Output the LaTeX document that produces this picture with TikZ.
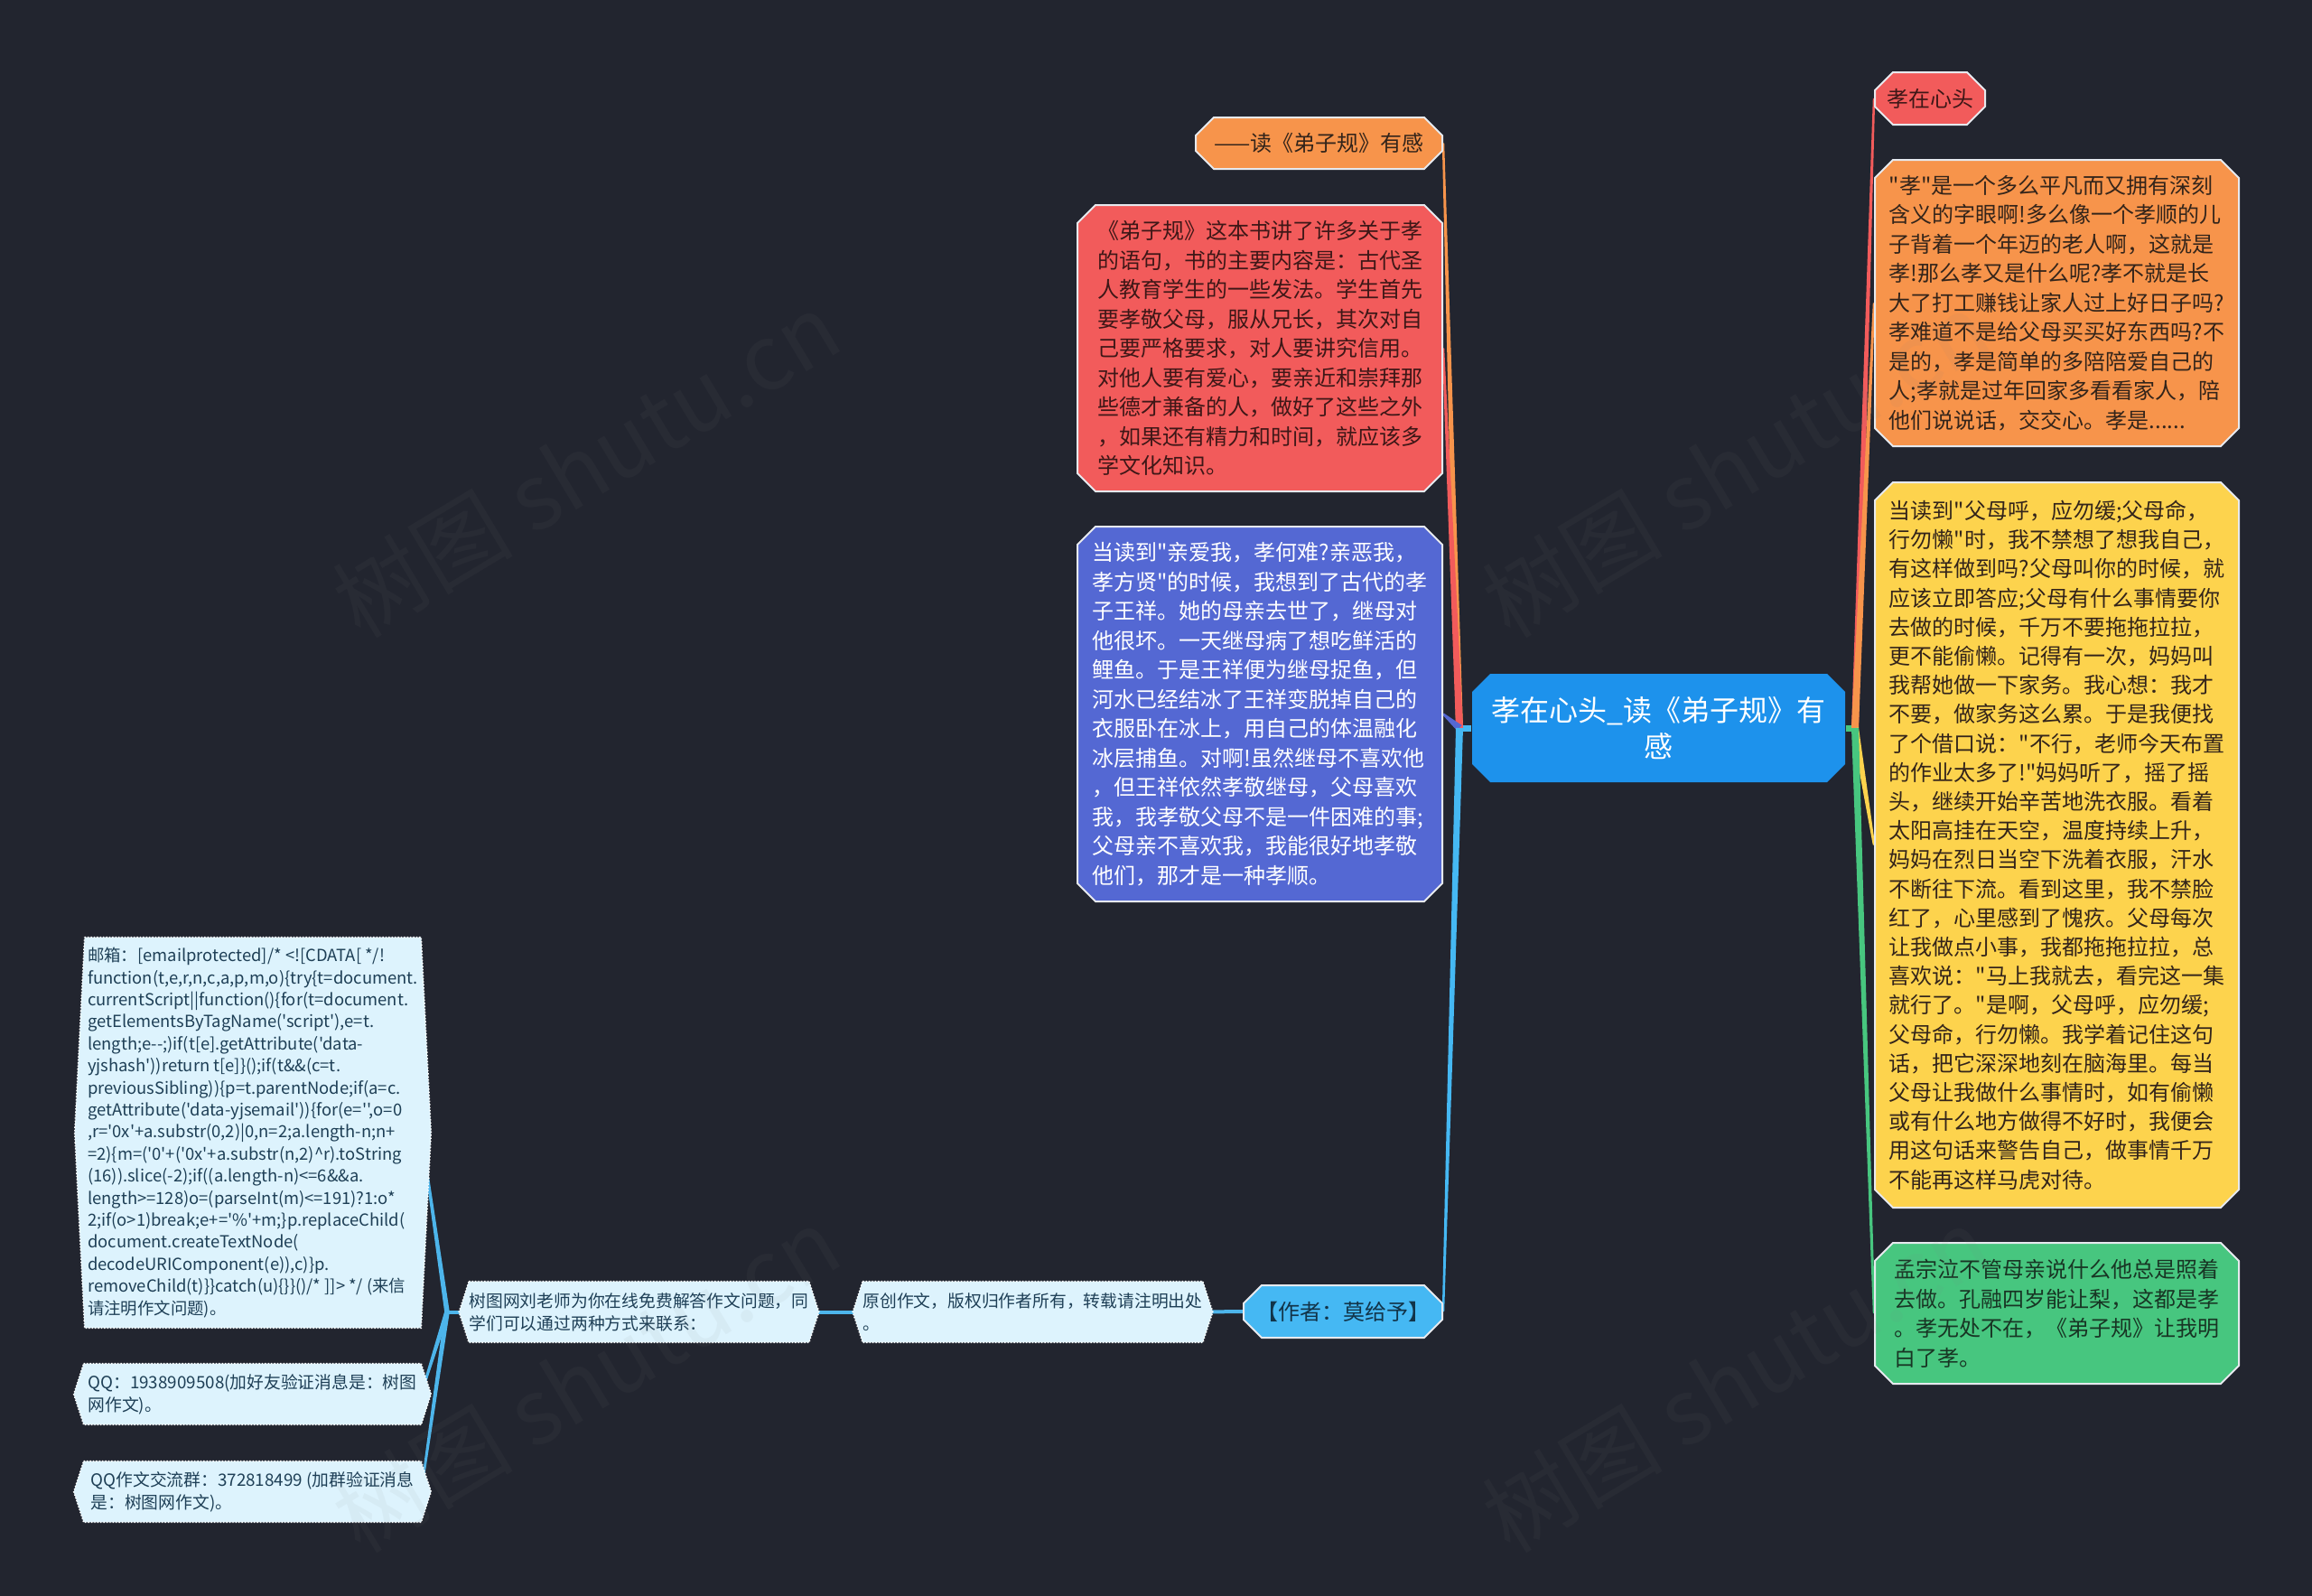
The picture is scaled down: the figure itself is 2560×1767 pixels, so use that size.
\documentclass[tikz,border=0pt]{standalone}
\usepackage{fontspec}
\setmainfont{Noto Sans CJK SC}[Ligatures=TeXOff]
\usetikzlibrary{shapes.misc,calc,backgrounds}
\definecolor{bgc}{HTML}{22252F}
\definecolor{cmain}{HTML}{1D92EC}
\definecolor{corange}{HTML}{F7944B}
\definecolor{cred}{HTML}{F25B5B}
\definecolor{cpurple}{HTML}{5468D3}
\definecolor{clblue}{HTML}{45B8F3}
\definecolor{cyellow}{HTML}{FDD34D}
\definecolor{cgreen}{HTML}{47C67F}
\definecolor{lfill}{HTML}{DDF3FD}
\definecolor{ltext}{HTML}{1E3F56}
\definecolor{tdark}{HTML}{33241A}
\definecolor{tred}{HTML}{3E1717}
\definecolor{tgreen}{HTML}{183524}
\definecolor{tblue}{HTML}{123449}
\definecolor{lline}{HTML}{4DB5EB}
\definecolor{bord}{HTML}{E6E9EE}
\tikzset{
  cbox/.style={chamfered rectangle, chamfered rectangle xsep=5pt, chamfered rectangle ysep=5pt,
    draw=bord, line width=1pt, inner sep=0pt, align=left,
    font=\fontsize{12pt}{16.25pt}\selectfont},
  lbox/.style={rectangle, inner sep=0pt, align=left, text=ltext,
    font=\fontsize{9.4pt}{12.5pt}\selectfont},
  wmark/.style={rotate=31, text=gray, opacity=0.065, font=\fontsize{50pt}{50pt}\selectfont},
}
\newcommand\tconn[4][2pt]{\fill[#2] ($(#3)!#1!90:(#4)$) -- ($(#4)!0.6pt!-90:(#3)$) -- ($(#4)!0.6pt!90:(#3)$) -- ($(#3)!#1!-90:(#4)$) -- cycle;}
\newcommand\lshape[1]{\path[fill=lfill, draw=white, densely dotted, line width=0.7pt] (#1.north west) -- (#1.north east) -- ($(#1.east)+(11,0)$) -- (#1.south east) -- (#1.south west) -- ($(#1.west)+(-11,0)$) -- cycle;}
\begin{document}
\begin{tikzpicture}[x=0.5pt,y=-0.5pt]
\useasboundingbox (0,0) rectangle (2560,1767);

% central
\node[cbox, draw=none, fill=cmain, text=white, align=center, minimum width=206.5pt, minimum height=60pt,
  font=\fontsize{16pt}{20pt}\selectfont] (center) at (1836.5,806) {孝在心头\_读《弟子规》有\\感};

% left
\node[cbox, fill=corange, text=tdark, minimum width=136.5pt, minimum height=28.5pt] (sub1) at (1460.5,158.5) {——读《弟子规》有感};
\node[cbox, fill=cred, text=tred, minimum width=202pt, minimum height=158.5pt] (red) at (1395,385.5) {《弟子规》这本书讲了许多关于孝\\的语句，书的主要内容是：古代圣\\人教育学生的一些发法。学生首先\\要孝敬父母，服从兄长，其次对自\\己要严格要求，对人要讲究信用。\\对他人要有爱心，要亲近和崇拜那\\些德才兼备的人，做好了这些之外\\，如果还有精力和时间，就应该多\\学文化知识。};
\node[cbox, fill=cpurple, text=white, minimum width=202pt, minimum height=207.5pt] (purple) at (1395,790.5) {当读到"亲爱我，孝何难?亲恶我，\\孝方贤"的时候，我想到了古代的孝\\子王祥。她的母亲去世了，继母对\\他很坏。一天继母病了想吃鲜活的\\鲤鱼。于是王祥便为继母捉鱼，但\\河水已经结冰了王祥变脱掉自己的\\衣服卧在冰上，用自己的体温融化\\冰层捕鱼。对啊!虽然继母不喜欢他\\，但王祥依然孝敬继母，父母喜欢\\我，我孝敬父母不是一件困难的事;\\父母亲不喜欢我，我能很好地孝敬\\他们，那才是一种孝顺。};
\node[cbox, fill=clblue, text=tblue, align=center, minimum width=110pt, minimum height=29pt] (author) at (1487,1452) {【作者：莫给予】};

% right
\node[cbox, fill=cred, text=tred, minimum width=61pt, minimum height=29pt] (r0) at (2137,109) {孝在心头};
\node[cbox, fill=corange, text=tdark, minimum width=201.5pt, minimum height=158.5pt] (orange) at (2277.5,335.5) {"孝"是一个多么平凡而又拥有深刻\\含义的字眼啊!多么像一个孝顺的儿\\子背着一个年迈的老人啊，这就是\\孝!那么孝又是什么呢?孝不就是长\\大了打工赚钱让家人过上好日子吗?\\孝难道不是给父母买买好东西吗?不\\是的，孝是简单的多陪陪爱自己的\\人;孝就是过年回家多看看家人，陪\\他们说说话，交交心。孝是......};
\node[cbox, fill=cyellow, text=tdark, minimum width=201.5pt, minimum height=401.5pt,
  font=\fontsize{12pt}{16.1pt}\selectfont] (yellow) at (2277.5,935.5) {当读到"父母呼，应勿缓;父母命，\\行勿懒"时，我不禁想了想我自己，\\有这样做到吗?父母叫你的时候，就\\应该立即答应;父母有什么事情要你\\去做的时候，千万不要拖拖拉拉，\\更不能偷懒。记得有一次，妈妈叫\\我帮她做一下家务。我心想：我才\\不要，做家务这么累。于是我便找\\了个借口说："不行，老师今天布置\\的作业太多了!"妈妈听了，摇了摇\\头，继续开始辛苦地洗衣服。看着\\太阳高挂在天空，温度持续上升，\\妈妈在烈日当空下洗着衣服，汗水\\不断往下流。看到这里，我不禁脸\\红了，心里感到了愧疚。父母每次\\让我做点小事，我都拖拖拉拉，总\\喜欢说："马上我就去，看完这一集\\就行了。"是啊，父母呼，应勿缓;\\父母命，行勿懒。我学着记住这句\\话，把它深深地刻在脑海里。每当\\父母让我做什么事情时，如有偷懒\\或有什么地方做得不好时，我便会\\用这句话来警告自己，做事情千万\\不能再这样马虎对待。};
\node[cbox, fill=cgreen, text=tgreen, minimum width=201.5pt, minimum height=78pt] (green) at (2277.5,1454) {孟宗泣不管母亲说什么他总是照着\\去做。孔融四岁能让梨，这都是孝\\。孝无处不在，《弟子规》让我明\\白了孝。};

% bottom-left chain
\node[lbox, minimum width=185.5pt, minimum height=33.5pt] (yc) at (1143.5,1452.5) {原创作文，版权归作者所有，转载请注明出处\\。};
\node[lbox, minimum width=186.5pt, minimum height=33.5pt] (sw) at (707.5,1452.5) {树图网刘老师为你在线免费解答作文问题，同\\学们可以通过两种方式来联系：};
\node[lbox, minimum width=186pt, minimum height=216pt, font=\fontsize{9.2pt}{12.2pt}\selectfont] (mail) at (280,1254) {邮箱：[emailprotected]/* <![CDATA[ */!\\function(t,e,r,n,c,a,p,m,o)\{try\{t=document.\\currentScript||function()\{for(t=document.\\getElementsByTagName('script'),e=t.\\length;e--;)if(t[e].getAttribute('data-\\yjshash'))return t[e]\}();if(t\&\&(c=t.\\previousSibling))\{p=t.parentNode;if(a=c.\\getAttribute('data-yjsemail'))\{for(e='',o=0\\,r='0x'+a.substr(0,2)|0,n=2;a.length-n;n+\\=2)\{m=('0'+('0x'+a.substr(n,2)\textasciicircum{}r).toString\\(16)).slice(-2);if((a.length-n)<=6\&\&a.\\length>=128)o=(parseInt(m)<=191)?1:o*\\2;if(o>1)break;e+='\%'+m;\}p.replaceChild(\\document.createTextNode(\\decodeURIComponent(e)),c)\}p.\\removeChild(t)\}\}catch(u)\{\}\}()/* ]]> */ (来信\\请注明作文问题)。};
\node[lbox, minimum width=186.5pt, minimum height=33.5pt] (qq) at (279.5,1543.5) {QQ：1938909508(加好友验证消息是：树图\\网作文)。};
\node[lbox, minimum width=186.5pt, minimum height=33.5pt] (qqg) at (279.5,1651.5) {QQ作文交流群：372818499 (加群验证消息\\是：树图网作文)。};

\coordinate (LJ) at (1616,806);
\coordinate (RJ) at (2054,806);
\coordinate (BJ) at (495,1452.5);

\begin{scope}[on background layer]
\fill[bgc] (0,0) rectangle (2560,1767);
% stubs
\draw[clblue, line width=3.5pt] (center.west) -- (LJ);
\draw[cgreen, line width=3.5pt] (center.east) -- (RJ);
% left branches
\tconn{corange}{LJ}{sub1.east}
\tconn{cred}{LJ}{red.east}
\tconn{cpurple}{LJ}{purple.east}
\tconn{clblue}{LJ}{author.east}
% right branches
\tconn{cred}{RJ}{r0.west}
\tconn{corange}{RJ}{orange.west}
\tconn{cyellow}{RJ}{yellow.west}
\tconn{cgreen}{RJ}{green.west}
% chain
\draw[lline, line width=2pt] (author.west) -- (yc.east);
\draw[lline, line width=2pt] (yc.west) -- (sw.east);
\draw[lline, line width=2pt] (sw.west) -- (BJ);
\tconn[1.4pt]{lline}{BJ}{mail.east}
\tconn[1.4pt]{lline}{BJ}{qq.east}
\tconn[1.4pt]{lline}{BJ}{qqg.east}
% light shapes
\lshape{yc}
\lshape{sw}
\lshape{mail}
\lshape{qq}
\lshape{qqg}
\end{scope}

% watermarks
\node[wmark] (wm1) at (649,514) {树图 shutu.cn};
\node[wmark] (wm2) at (1922,514) {树图 shutu.cn};
\node[wmark] (wm3) at (649,1527) {树图 shutu.cn};
\node[wmark] (wm4) at (1922,1527) {树图 shutu.cn};
\end{tikzpicture}
\end{document}
